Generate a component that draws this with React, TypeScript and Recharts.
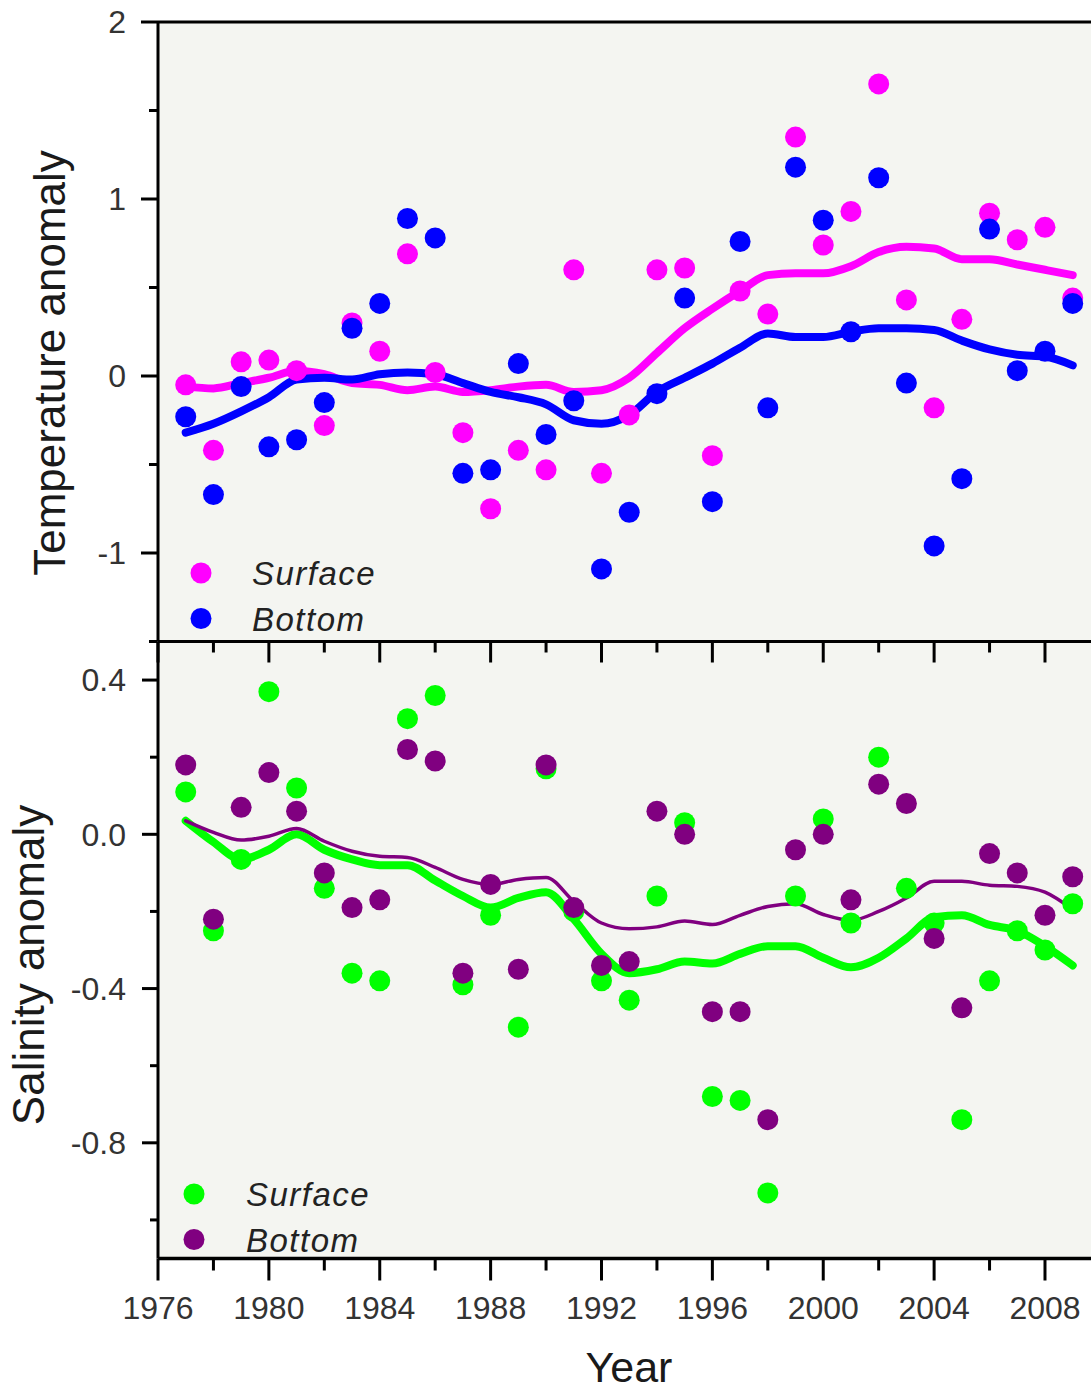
import React from 'react';
import { ComposedChart, Scatter, Line, XAxis, YAxis, CartesianGrid, Legend } from 'recharts';

// ---------- data ----------
const years = [
  1977, 1978, 1979, 1980, 1981, 1982, 1983, 1984, 1985, 1986, 1987,
  1988, 1989, 1990, 1991, 1992, 1993, 1994, 1995, 1996, 1997, 1998,
  1999, 2000, 2001, 2002, 2003, 2004, 2005, 2006, 2007, 2008, 2009,
];

const tempSurface = [
  -0.05, -0.42, 0.08, 0.09, 0.03, -0.28, 0.3, 0.14, 0.69, 0.02, -0.32,
  -0.75, -0.42, -0.53, 0.6, -0.55, -0.22, 0.6, 0.61, -0.45, 0.48, 0.35,
  1.35, 0.74, 0.93, 1.65, 0.43, -0.18, 0.32, 0.92, 0.77, 0.84, 0.44,
];
const tempBottom = [
  -0.23, -0.67, -0.06, -0.4, -0.36, -0.15, 0.27, 0.41, 0.89, 0.78, -0.55,
  -0.53, 0.07, -0.33, -0.14, -1.09, -0.77, -0.1, 0.44, -0.71, 0.76, -0.18,
  1.18, 0.88, 0.25, 1.12, -0.04, -0.96, -0.58, 0.83, 0.03, 0.14, 0.41,
];
const tempSurfaceFit = [
  -0.06, -0.07, -0.04, -0.01, 0.03, 0.01, -0.04, -0.05, -0.08, -0.06, -0.09,
  -0.08, -0.06, -0.05, -0.09, -0.08, -0.01, 0.13, 0.27, 0.38, 0.48, 0.57,
  0.58, 0.58, 0.62, 0.7, 0.73, 0.72, 0.66, 0.66, 0.63, 0.6, 0.57,
];
const tempBottomFit = [
  -0.32, -0.27, -0.2, -0.12, -0.02, -0.01, -0.02, 0.01, 0.02, 0.01, -0.04,
  -0.09, -0.12, -0.16, -0.25, -0.27, -0.22, -0.09, -0.01, 0.07, 0.16, 0.24,
  0.22, 0.22, 0.25, 0.27, 0.27, 0.26, 0.2, 0.15, 0.12, 0.11, 0.06,
];

const salSurface = [
  0.11, -0.25, -0.065, 0.37, 0.12, -0.14, -0.36, -0.38, 0.3, 0.36, -0.39,
  -0.21, -0.5, 0.17, -0.2, -0.38, -0.43, -0.16, 0.03, -0.68, -0.69, -0.93,
  -0.16, 0.04, -0.23, 0.2, -0.14, -0.23, -0.74, -0.38, -0.25, -0.3, -0.18,
];
const salBottom = [
  0.18, -0.22, 0.07, 0.16, 0.06, -0.1, -0.19, -0.17, 0.22, 0.19, -0.36,
  -0.13, -0.35, 0.18, -0.19, -0.34, -0.33, 0.06, 0.0, -0.46, -0.46, -0.74,
  -0.04, 0.0, -0.17, 0.13, 0.08, -0.27, -0.45, -0.05, -0.1, -0.21, -0.11,
];
const salSurfaceFit = [
  0.035, -0.02, -0.065, -0.04, 0.0, -0.04, -0.065, -0.08, -0.08, -0.12, -0.16,
  -0.19, -0.165, -0.15, -0.22, -0.31, -0.36, -0.35, -0.33, -0.335, -0.31, -0.29,
  -0.29, -0.32, -0.345, -0.32, -0.27, -0.215, -0.21, -0.235, -0.25, -0.29, -0.34,
];
const salBottomFit = [
  0.035, 0.005, -0.015, -0.005, 0.015, -0.018, -0.044, -0.057, -0.06, -0.086, -0.117,
  -0.13, -0.117, -0.112, -0.174, -0.23, -0.245, -0.24, -0.225, -0.234, -0.21, -0.187,
  -0.18, -0.208, -0.223, -0.2, -0.165, -0.122, -0.122, -0.132, -0.135, -0.15, -0.195,
];

const yearTicksMajor = [1976, 1980, 1984, 1988, 1992, 1996, 2000, 2004, 2008];
const yearTicksMinor = [1978, 1982, 1986, 1990, 1994, 1998, 2002, 2006];
const tempTicksMajor = [2, 1, 0, -1];
const tempTicksMinor = [1.5, 0.5, -0.5, -1.5];
const salTicksMajor = [0.4, 0, -0.4, -0.8];
const salTicksMinor = [0.2, -0.2, -0.6, -1.0];
const legendOrder = ['Surface', 'Bottom'];

const tempData = years.map((year, i) => ({
  year,
  surface: tempSurface[i],
  bottom: tempBottom[i],
  surfaceFit: tempSurfaceFit[i],
  bottomFit: tempBottomFit[i],
}));
const salData = years.map((year, i) => ({
  year,
  surface: salSurface[i],
  bottom: salBottom[i],
  surfaceFit: salSurfaceFit[i],
  bottomFit: salBottomFit[i],
}));

// ---------- style ----------
const W = 1091;
const H = 1393;
const LEFT = 158;
const TOP = 22;
const MID = 641.5;
const BOT = 1258.5;
const X_DOMAIN: [number, number] = [1976, 2009.66];
const FONT = '"Liberation Sans", Arial, Helvetica, sans-serif';
const BG = '#f4f5f1';
const MAGENTA = '#ff00ff';
const BLUE = '#0000ff';
const GREEN = '#00ff00';
const PURPLE = '#800080';

const axisLine = { stroke: '#000', strokeWidth: 3 };
const tickLine = { stroke: '#000', strokeWidth: 3 };
const tickText = { fill: '#333', fontSize: 32, fontFamily: FONT };
const blank = () => '';

const dotShape = (color: string) => (props: any) =>
  props.cx == null || props.cy == null ? null : (
    <circle cx={props.cx} cy={props.cy} r={10.5} fill={color} />
  );

const makeLegend = (textX: number) => (props: any) => {
  const payload = (props.payload || [])
    .filter((p: any) => p.type !== 'none' && legendOrder.includes(p.value))
    .sort((a: any, b: any) => legendOrder.indexOf(a.value) - legendOrder.indexOf(b.value));
  return (
    <svg width={240} height={100} style={{ display: 'block', overflow: 'visible' }}>
      {payload.map((p: any, i: number) => (
        <g key={i}>
          <circle cx={20} cy={23 + i * 45.5} r={10.5} fill={p.color} />
          <text
            x={textX}
            y={23 + i * 45.5 + 12}
            fontFamily={FONT}
            fontStyle="italic"
            fontSize={33}
            letterSpacing={1.5}
            fill="#222"
          >
            {p.value}
          </text>
        </g>
      ))}
    </svg>
  );
};

function TemperaturePanel() {
  return (
    <ComposedChart
      width={W}
      height={H}
      data={tempData}
      margin={{ top: TOP - 1, right: 0, bottom: H - MID - 2, left: LEFT - 2 }}
    >
      <CartesianGrid xAxisId="x" yAxisId="y" fill={BG} horizontal={false} vertical={false} />
      <XAxis
        xAxisId="x"
        dataKey="year"
        type="number"
        domain={X_DOMAIN}
        allowDataOverflow
        ticks={yearTicksMajor}
        interval={0}
        height={1}
        axisLine={axisLine}
        tickLine={tickLine}
        tickSize={21}
        tickFormatter={blank}
      />
      <XAxis
        xAxisId="xMinor"
        dataKey="year"
        type="number"
        domain={X_DOMAIN}
        allowDataOverflow
        ticks={yearTicksMinor}
        interval={0}
        height={1}
        axisLine={false}
        tickLine={tickLine}
        tickSize={10}
        tickFormatter={blank}
      />
      <XAxis
        xAxisId="xTop"
        dataKey="year"
        orientation="top"
        type="number"
        domain={X_DOMAIN}
        allowDataOverflow
        ticks={[1976]}
        height={1}
        axisLine={axisLine}
        tickLine={false}
        tickFormatter={blank}
      />
      <YAxis
        yAxisId="y"
        type="number"
        domain={[-1.5, 2]}
        allowDataOverflow
        ticks={tempTicksMajor}
        interval={0}
        width={1}
        axisLine={axisLine}
        tickLine={tickLine}
        tickSize={17}
        tickMargin={15}
        tick={tickText}
      />
      <YAxis
        yAxisId="yMinor"
        type="number"
        domain={[-1.5, 2]}
        allowDataOverflow
        ticks={tempTicksMinor}
        interval={0}
        width={1}
        axisLine={false}
        tickLine={tickLine}
        tickSize={8}
        tickFormatter={blank}
      />
      <Scatter
        xAxisId="x"
        yAxisId="y"
        name="Surface"
        dataKey="surface"
        fill={MAGENTA}
        shape={dotShape(MAGENTA)}
        isAnimationActive={false}
      />
      <Scatter
        xAxisId="x"
        yAxisId="y"
        name="Bottom"
        dataKey="bottom"
        fill={BLUE}
        shape={dotShape(BLUE)}
        isAnimationActive={false}
      />
      <Line
        xAxisId="x"
        yAxisId="y"
        type="monotone"
        dataKey="surfaceFit"
        stroke={MAGENTA}
        strokeWidth={8}
        strokeLinecap="round"
        dot={false}
        activeDot={false}
        legendType="none"
        isAnimationActive={false}
      />
      <Line
        xAxisId="x"
        yAxisId="y"
        type="monotone"
        dataKey="bottomFit"
        stroke={BLUE}
        strokeWidth={8}
        strokeLinecap="round"
        dot={false}
        activeDot={false}
        legendType="none"
        isAnimationActive={false}
      />
      <Legend
        layout="vertical"
        align="center"
        verticalAlign="middle"
        itemSorter={null as any}
        wrapperStyle={{ left: 181, top: 550, width: 240, height: 100 }}
        content={makeLegend(71)}
      />
    </ComposedChart>
  );
}

function SalinityPanel() {
  return (
    <ComposedChart
      width={W}
      height={H}
      data={salData}
      margin={{ top: MID, right: 0, bottom: H - BOT - 2, left: LEFT - 2 }}
    >
      <CartesianGrid xAxisId="x" yAxisId="y" fill={BG} horizontal={false} vertical={false} />
      <XAxis
        xAxisId="x"
        dataKey="year"
        type="number"
        domain={X_DOMAIN}
        allowDataOverflow
        ticks={yearTicksMajor}
        interval={0}
        height={1}
        axisLine={{ stroke: '#000', strokeWidth: 3.5 }}
        tickLine={tickLine}
        tickSize={22}
        tickMargin={16}
        tick={tickText}
      />
      <XAxis
        xAxisId="xMinor"
        dataKey="year"
        type="number"
        domain={X_DOMAIN}
        allowDataOverflow
        ticks={yearTicksMinor}
        interval={0}
        height={1}
        axisLine={false}
        tickLine={tickLine}
        tickSize={11}
        tickFormatter={blank}
      />
      <YAxis
        yAxisId="y"
        type="number"
        domain={[-1.1, 0.5]}
        allowDataOverflow
        ticks={salTicksMajor}
        interval={0}
        width={1}
        axisLine={axisLine}
        tickLine={tickLine}
        tickSize={16}
        tickMargin={16}
        tick={tickText}
        tickFormatter={(v: number) => v.toFixed(1)}
      />
      <YAxis
        yAxisId="yMinor"
        type="number"
        domain={[-1.1, 0.5]}
        allowDataOverflow
        ticks={salTicksMinor}
        interval={0}
        width={1}
        axisLine={false}
        tickLine={tickLine}
        tickSize={7}
        tickFormatter={blank}
      />
      <Scatter
        xAxisId="x"
        yAxisId="y"
        name="Surface"
        dataKey="surface"
        fill={GREEN}
        shape={dotShape(GREEN)}
        isAnimationActive={false}
      />
      <Line
        xAxisId="x"
        yAxisId="y"
        type="monotone"
        dataKey="surfaceFit"
        stroke={GREEN}
        strokeWidth={8}
        strokeLinecap="round"
        dot={false}
        activeDot={false}
        legendType="none"
        isAnimationActive={false}
      />
      <Scatter
        xAxisId="x"
        yAxisId="y"
        name="Bottom"
        dataKey="bottom"
        fill={PURPLE}
        shape={dotShape(PURPLE)}
        isAnimationActive={false}
      />
      <Line
        xAxisId="x"
        yAxisId="y"
        type="monotone"
        dataKey="bottomFit"
        stroke={PURPLE}
        strokeWidth={3.5}
        strokeLinecap="round"
        dot={false}
        activeDot={false}
        legendType="none"
        isAnimationActive={false}
      />
      <Legend
        layout="vertical"
        align="center"
        verticalAlign="middle"
        itemSorter={null as any}
        wrapperStyle={{ left: 174, top: 1171, width: 240, height: 100 }}
        content={makeLegend(72)}
      />
    </ComposedChart>
  );
}

export default function App() {
  return (
    <div
      style={{
        position: 'absolute',
        left: 0,
        top: 0,
        width: W,
        height: H,
        overflow: 'hidden',
        background: '#fff',
      }}
    >
      <div style={{ position: 'absolute', left: 0, top: 0 }}>
        <SalinityPanel />
      </div>
      <div style={{ position: 'absolute', left: 0, top: 0 }}>
        <TemperaturePanel />
      </div>
      <svg
        width={W}
        height={H}
        style={{ position: 'absolute', left: 0, top: 0, pointerEvents: 'none' }}
      >
        <text
          transform="translate(65,363) rotate(-90)"
          textAnchor="middle"
          fontFamily={FONT}
          fontSize={44}
          fill="#1a1a1a"
        >
          Temperature anomaly
        </text>
        <text
          transform="translate(44,965) rotate(-90)"
          textAnchor="middle"
          fontFamily={FONT}
          fontSize={44}
          fill="#1a1a1a"
        >
          Salinity anomaly
        </text>
        <text x={629} y={1382} textAnchor="middle" fontFamily={FONT} fontSize={43} fill="#1a1a1a">
          Year
        </text>
      </svg>
    </div>
  );
}
